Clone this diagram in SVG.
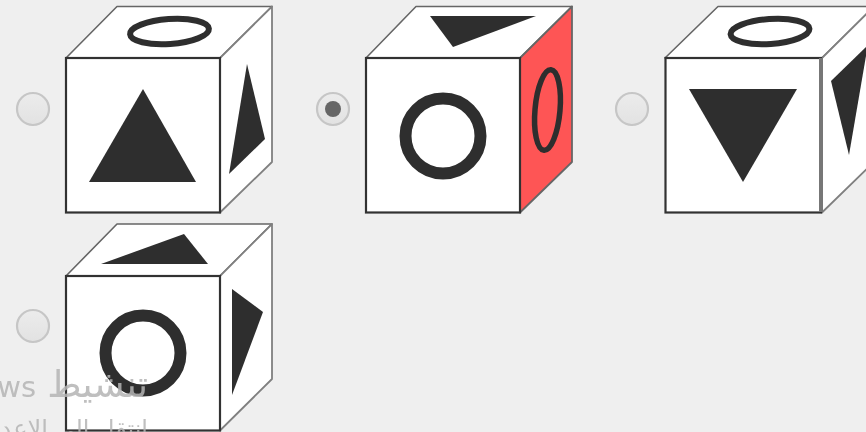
<svg xmlns="http://www.w3.org/2000/svg" width="866" height="432" viewBox="0 0 866 432">
<defs>
<linearGradient id="rg" x1="0" y1="0" x2="0" y2="1"><stop offset="0" stop-color="#ececec"/><stop offset="1" stop-color="#e2e2e2"/></linearGradient>
<filter id="soft" x="-5%" y="-5%" width="110%" height="110%"><feGaussianBlur stdDeviation="0.45"/></filter>
</defs>
<style>
.cube,.radio-g,#watermark{filter:url(#soft)}
.face{fill:#fff;stroke:#666;stroke-width:1.6;stroke-linejoin:round}
.front{fill:#fff;stroke:#333;stroke-width:2.2}
.side{fill:#fff;stroke:#808080;stroke-width:1.8;stroke-linejoin:round}
.red{fill:#fe5555;stroke:#666}
.solid{fill:#2e2e2e}
.ring{fill:none;stroke:#2e2e2e}
.radio{fill:url(#rg);stroke:#c6c6c6;stroke-width:2.2}
.wm{font-family:"DejaVu Sans","Noto Sans",sans-serif;fill:#b4b4b4;opacity:.85}
</style>
<rect width="866" height="432" fill="#efefef"/>
<g id="radio-1" class="radio-g"><circle class="radio" cx="33" cy="109" r="16"/></g>
<g id="radio-2" class="radio-g"><circle class="radio" cx="333" cy="109" r="16"/><circle cx="333" cy="109" r="8" fill="#666"/></g>
<g id="radio-3" class="radio-g"><circle class="radio" cx="632" cy="109" r="16"/></g>
<g id="radio-4" class="radio-g"><circle class="radio" cx="33" cy="326" r="16"/></g>

<g id="cube-1" class="cube">
<polygon class="face" points="66,58 117,6.500 272,6.500 220,58"/>
<polygon class="side" points="220,58 272,6.500 272,162 220,212.500"/>
<rect class="front" x="66" y="58" width="154" height="154.500"/>
<ellipse class="ring" cx="169.500" cy="31.500" rx="39.500" ry="12.500" stroke-width="6" transform="rotate(-4 169.500 31.500)"/>
<polygon class="solid" points="143,89 196,182 89,182"/>
<polygon class="solid" points="247,64 265,139 229,174"/>
</g>

<g id="cube-2" class="cube">
<polygon class="face" points="366,58 416,6.500 572,6.500 520,58"/>
<polygon class="side red" points="520,58 572,6.500 572,162 520,212.500"/>
<rect class="front" x="366" y="58" width="154" height="154.500"/>
<polygon class="solid" points="430,16 536,16 453,47"/>
<circle class="ring" cx="443" cy="136" r="37.500" stroke-width="12"/>
<ellipse class="ring" cx="547.500" cy="110" rx="12.500" ry="40.500" stroke-width="5.500" transform="rotate(5 547.500 110)"/>
</g>

<g id="cube-3" class="cube">
<polygon class="face" points="665,58 718,6.500 874,6.500 822,58"/>
<polygon class="side" points="822,58 874,6.500 874,162 822,212.500"/>
<rect class="front" x="665.500" y="58" width="155.500" height="154.500"/>
<line x1="821" y1="58" x2="821" y2="212" stroke="#777" stroke-width="4"/>
<ellipse class="ring" cx="770" cy="31.500" rx="39.500" ry="12.500" stroke-width="6" transform="rotate(-4 770 31.500)"/>
<polygon class="solid" points="689,89 797,89 743,182"/>
<polygon class="solid" points="831,81 867,46 867,50 849,155"/>
</g>

<g id="cube-4" class="cube">
<polygon class="face" points="66,276 117,224 272,224 220,276"/>
<polygon class="side" points="220,276 272,224 272,379 220,430.500"/>
<rect class="front" x="66" y="276" width="154" height="154.500"/>
<polygon class="solid" points="101,264 184,234 208,264"/>
<circle class="ring" cx="143" cy="353" r="37.500" stroke-width="12"/>
<polygon class="solid" points="232,289 263,312 232,395"/>
</g>

<g id="watermark">
<text class="wm" x="36" y="397" font-size="29" text-anchor="end">ws</text>
<text class="wm" x="148" y="397" font-size="37" direction="rtl" xml:lang="ar">تنشيط</text>
<text class="wm" x="148" y="437" font-size="24" direction="rtl" xml:lang="ar">انتقل إلى الإعدادات</text>
</g>
</svg>
